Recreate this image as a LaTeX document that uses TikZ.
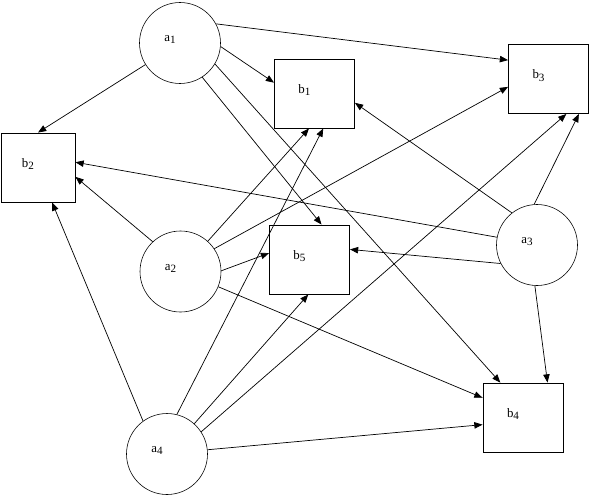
\documentclass[tikz,border=0pt]{standalone}
\usepackage{fontspec}
\setmainfont{Liberation Serif}
\usetikzlibrary{arrows.meta}
\newcommand{\sublbl}[2]{#1\raisebox{-2pt}{\fontsize{9.5}{11}\selectfont #2}}
\begin{document}
\begin{tikzpicture}[x=0.03cm, y=-0.03cm,
    agent/.style={draw, line width=0.5pt, circle, minimum size=2.43cm, inner sep=0pt, label={[lbltext]center:#1}},
    task/.style={draw, line width=0.8pt, rectangle, minimum width=2.4cm, minimum height=2.07cm, inner sep=0pt, label={[lbltext]center:#1}},
    lbltext/.style={xshift=-0.3cm, yshift=0.1cm, font=\fontsize{11}{13}\selectfont},
    link/.style={line width=0.6pt, -{Triangle[length=7pt,width=5.5pt]}}]
  \useasboundingbox (0,0) rectangle (590,497);
  \node[agent=\sublbl{a}{1}] (a1) at (180,43) {};
  \node[agent=\sublbl{a}{2}] (a2) at (180.5,271.5) {};
  \node[agent=\sublbl{a}{3}] (a3) at (537,245) {};
  \node[agent=\sublbl{a}{4}] (a4) at (167,454) {};
  \node[task=\sublbl{b}{1}] (b1) at (314.5,93.5) {};
  \node[task=\sublbl{b}{2}, minimum width=2.22cm] (b2) at (38,167.5) {};
  \node[task=\sublbl{b}{3}] (b3) at (548.5,79) {};
  \node[task=\sublbl{b}{4}] (b4) at (523,417.5) {};
  \node[task=\sublbl{b}{5}] (b5) at (309.5,259.5) {};
  \foreach \s/\t in {a1.212/b2.north, a1.28/b3.155, a1.-5/b1.165, a1.-57/b5.71, a1.-31/b4.123,
      a2.133/b2.-14, a2.48/b1.-99, a2.34/b3.191, a2.1/b5.171, a2.-22/b4.154,
      a3.169/b2.8, a3.128/b1.-13, a3.207/b5.14, a3.94/b3.-49, a3.-93/b4.55,
      a4.126/b2.-68, a4.76/b1.-76, a4.48/b5.-92, a4.33/b3.-63, a4.6/b4.190}
    \draw[link] (\s) -- (\t);
\end{tikzpicture}
\end{document}
